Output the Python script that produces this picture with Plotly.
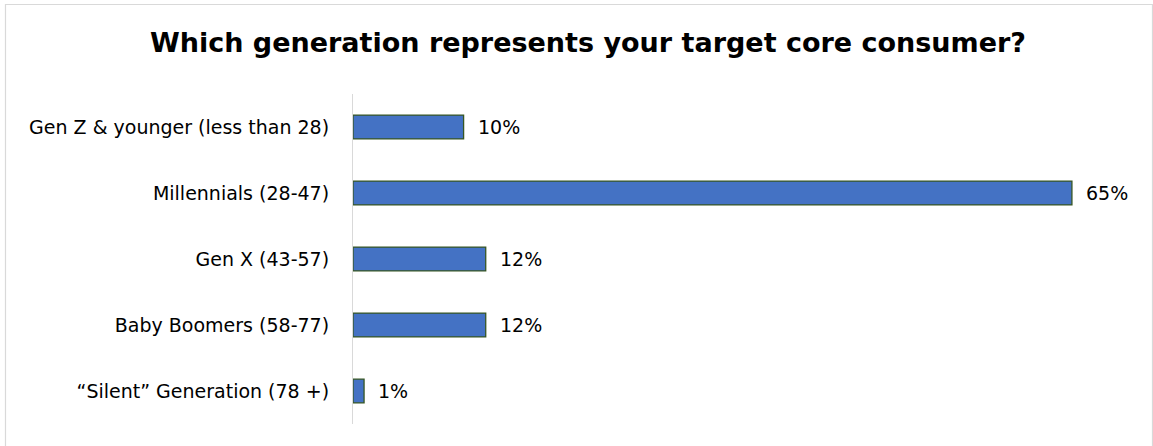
import plotly.graph_objects as go

categories = [
    "Gen Z & younger (less than 28)",
    "Millennials (28-47)",
    "Gen X (43-57)",
    "Baby Boomers (58-77)",
    "\u201cSilent\u201d Generation (78 +)",
]
values = [10, 65, 12, 12, 1]
labels = [f"{v}%" for v in values]

title_text = "Which generation represents your target core consumer?"
FONT = "'DejaVu Sans', sans-serif"

fig = go.Figure()
fig.add_trace(go.Bar(
    x=values,
    y=categories,
    orientation="h",
    marker=dict(color="#4472C4", line=dict(color="#375623", width=1.3)),
    width=0.36,
    hoverinfo="skip",
))

for c, v, t in zip(categories, values, labels):
    fig.add_annotation(
        x=v, y=c, text=t, showarrow=False, xanchor="left", yanchor="middle",
        xshift=12, font=dict(family=FONT, size=19, color="#000000"),
    )

fig.add_shape(
    type="rect", xref="paper", yref="paper",
    x0=-353/777 + 5.5/777, x1=(1152.5-353)/777, y0=-0.2, y1=(446-4.5-22)/330,
    line=dict(color="#d9d9d9", width=1.2), fillcolor="rgba(0,0,0,0)", layer="below",
)

fig.update_layout(
    width=1153, height=446,
    margin=dict(l=353, r=23, t=94, b=22),
    paper_bgcolor="white", plot_bgcolor="white",
    showlegend=False,
    title=dict(
        text=f"<b>{title_text}</b>",
        x=588/1153, xref="container", xanchor="center",
        y=1 - 43/446, yanchor="middle",
        font=dict(family=FONT, size=27, color="#000000"),
    ),
    font=dict(family=FONT, size=19, color="#000000"),
)
fig.update_xaxes(range=[0, 70.25], visible=False, showgrid=False, zeroline=False)
fig.update_yaxes(
    autorange="reversed", showline=True, linecolor="#d9d9d9", linewidth=1.2,
    ticks="", showgrid=False, ticklabelstandoff=19,
    tickfont=dict(family=FONT, size=19, color="#000000"),
)

fig.write_html("out.html")
